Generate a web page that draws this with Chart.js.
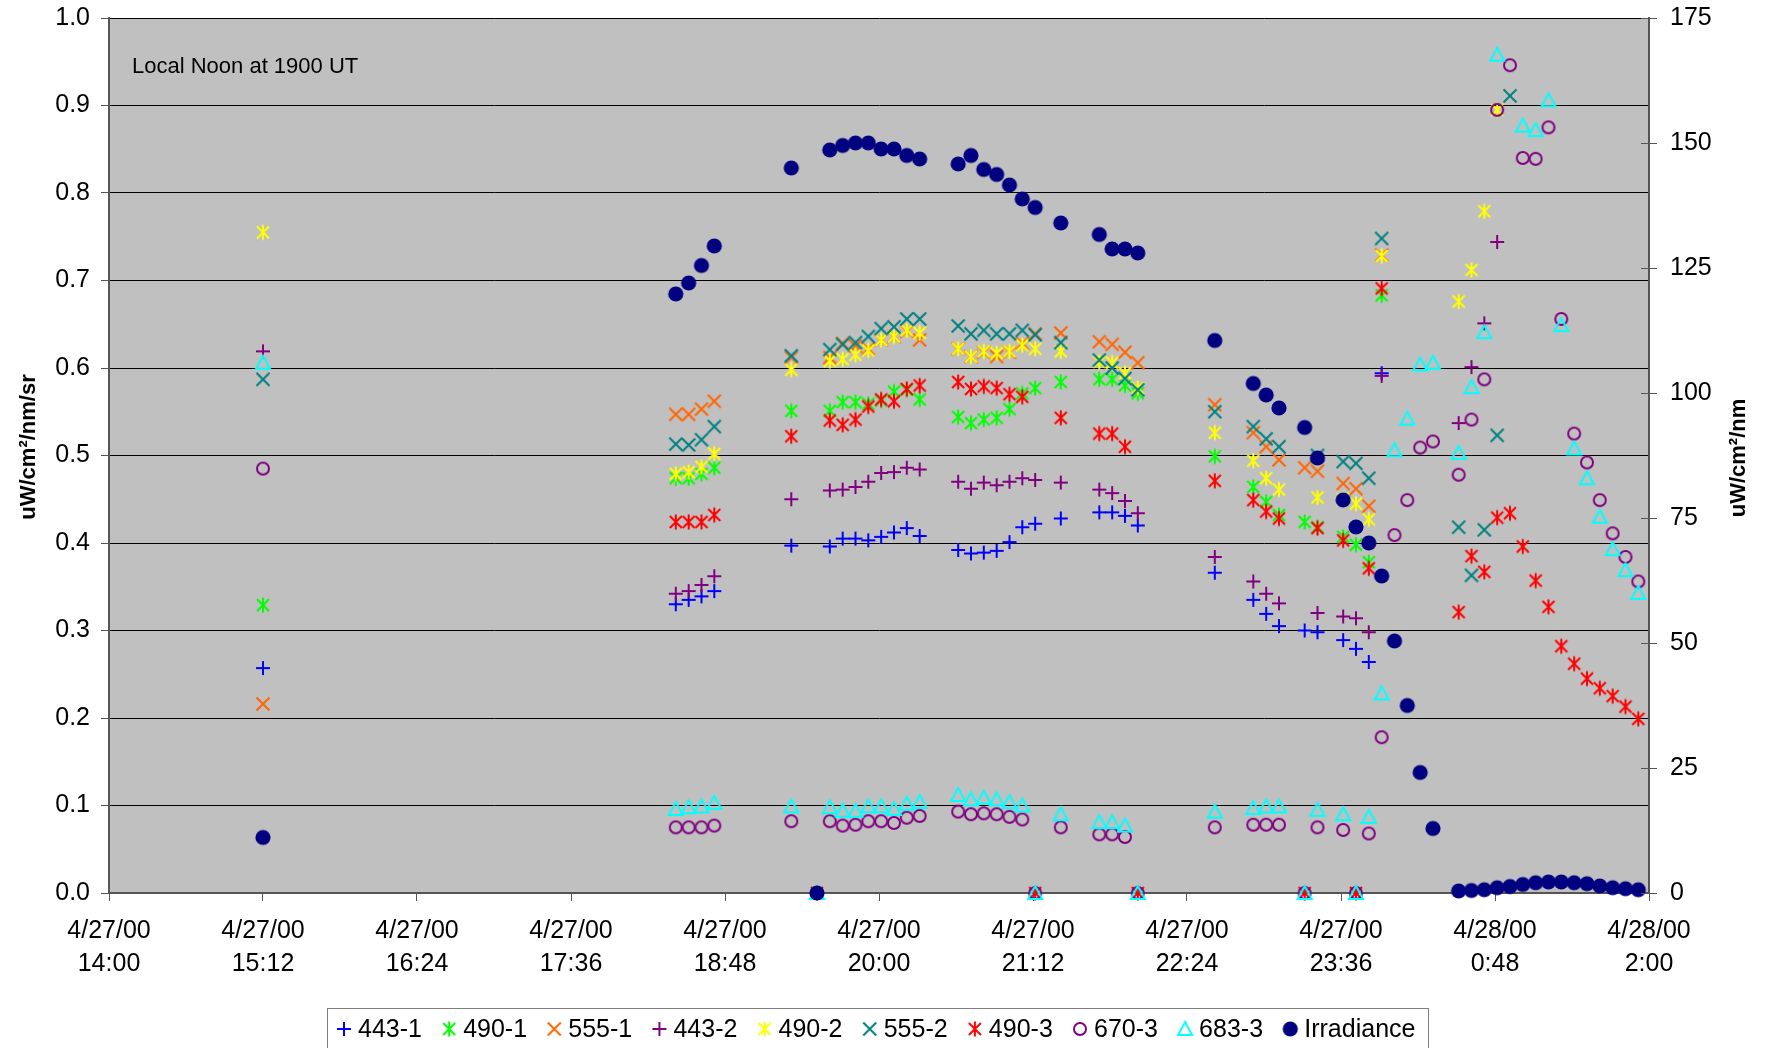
<!DOCTYPE html>
<html>
<head>
<meta charset="utf-8">
<title>Radiance and irradiance, 27-28 April 2000</title>
<script src="https://cdn.jsdelivr.net/npm/chart.js@4.4.0/dist/chart.umd.min.js"></script>
<style>
  html, body { margin: 0; padding: 0; background: #ffffff; }
  #wrap { width: 1767px; height: 1048px; position: relative; }
</style>
</head>
<body>
<div id="wrap"><canvas id="chart" width="1767" height="1048"></canvas></div>
<script>
// ---- data ---------------------------------------------------------------
const _ = null;

// sample times (UT); times before noon belong to 4/28
const sampleTimes = [
  "15:12",
  "18:25", "18:31", "18:37", "18:43",
  "19:19", "19:31",
  "19:37", "19:43", "19:49", "19:55", "20:01", "20:07", "20:13", "20:19",
  "20:37", "20:43", "20:49", "20:55", "21:01", "21:07", "21:13",
  "21:25",
  "21:43", "21:49", "21:55", "22:01",
  "22:37",
  "22:55", "23:01", "23:07",
  "23:19", "23:25",
  "23:37", "23:43", "23:49", "23:55",
  "0:01", "0:07", "0:13", "0:19",
  "0:31", "0:37", "0:43", "0:49", "0:55", "1:01", "1:07", "1:13",
  "1:19", "1:25", "1:31", "1:37", "1:43", "1:49", "1:55"
];

// radiance, uW/cm^2/nm/sr
const rad443_1 = [0.257, 0.330,0.335,0.339,0.345, 0.397,_, 0.396,0.405,0.405,0.403,0.407,0.412,0.417,0.408,
  0.392,0.388,0.389,0.391,0.401,0.418,0.422, 0.428, 0.435,0.435,0.431,0.420, 0.366, 0.335,0.319,0.305,
  0.300,0.298, 0.289,0.279,0.264,0.594, _,_,_,_, _,_,_,_,_,_,_,_,_,_,_,_,_,_,_];
const rad490_1 = [0.329, 0.474,0.474,0.479,0.486, 0.551,_, 0.551,0.561,0.561,0.559,0.563,0.573,0.575,0.564,
  0.544,0.537,0.541,0.543,0.553,0.571,0.577, 0.584, 0.587,0.587,0.580,0.571, 0.499, 0.464,0.447,0.432,
  0.424,0.418, 0.407,0.398,0.378,0.683, _,_,_,_, _,_,_,_,_,_,_,_,_,_,_,_,_,_,_];
const rad555_1 = [0.216, 0.547,0.547,0.553,0.562, 0.612,_, 0.612,0.628,0.625,0.622,0.632,0.636,0.642,0.632,
  0.622,0.613,0.618,0.613,0.618,0.628,0.639, 0.640, 0.630,0.627,0.618,0.606, 0.558, 0.526,0.510,0.495,
  0.486,0.482, 0.468,0.462,0.442,0.729, _,_,_,_, _,_,_,_,_,_,_,_,_,_,_,_,_,_,_];
const rad443_2 = [0.619, 0.342,0.345,0.352,0.362, 0.450,_, 0.460,0.461,0.464,0.470,0.480,0.481,0.486,0.484,
  0.470,0.462,0.469,0.466,0.470,0.474,0.472, 0.469, 0.461,0.457,0.448,0.434, 0.384, 0.356,0.342,0.331,
  _,0.320, 0.316,0.314,0.298,0.591, _,_,_,_, 0.537,0.601,0.651,0.744,_,_,_,_,_,_,_,_,_,_,_];
const rad490_2 = [0.755, 0.479,0.481,0.487,0.502, 0.598,_, 0.608,0.610,0.615,0.620,0.632,0.636,0.643,0.640,
  0.622,0.613,0.619,0.617,0.619,0.626,0.622, 0.619, 0.607,0.606,0.594,0.577, 0.526, 0.494,0.474,0.461,
  _,0.452, 0.450,0.445,0.427,0.728, _,_,_,_, 0.676,0.712,0.779,0.895,_,_,_,_,_,_,_,_,_,_,_];
const rad555_2 = [0.587, 0.513,0.512,0.518,0.533, 0.614,_, 0.621,0.627,0.629,0.636,0.645,0.647,0.656,0.656,
  0.648,0.639,0.643,0.639,0.639,0.643,0.638, 0.629, 0.609,0.600,0.588,0.575, 0.550, 0.533,0.519,0.510,
  _,0.500, 0.493,0.491,0.474,0.748, _,_,_,_, 0.418,0.363,0.415,0.523,0.911,_,_,_,_,_,_,_,_,_,_];
const rad490_3 = [_, 0.424,0.424,0.424,0.432, 0.522,0, 0.540,0.535,0.541,0.556,0.564,0.562,0.576,0.580,
  0.584,0.576,0.579,0.577,0.570,0.567,0, 0.543, 0.525,0.525,0.510,0, 0.471, 0.449,0.436,0.428,
  0,0.417, 0.403,0,0.371,0.691, _,_,_,_, 0.321,0.385,0.367,0.429,0.434,0.396,0.357,0.327,
  0.282,0.262,0.245,0.234,0.225,0.213,0.199];
const rad670_3 = [0.485, 0.075,0.075,0.075,0.077, 0.082,0, 0.082,0.077,0.078,0.082,0.082,0.080,0.086,0.088,
  0.093,0.090,0.091,0.090,0.087,0.084,0, 0.075, 0.067,0.067,0.064,0, 0.075, 0.078,0.078,0.078,
  0,0.075, 0.072,0,0.068,0.178, 0.409,0.449,0.509,0.516, 0.478,0.541,0.587,0.895,0.946,0.840,0.839,0.875,
  0.656,0.525,0.492,0.449,0.411,0.384,0.356];
const rad683_3 = [0.606, 0.096,0.098,0.099,0.103, 0.099,0, 0.098,0.094,0.094,0.099,0.099,0.096,0.102,0.104,
  0.112,0.107,0.109,0.107,0.104,0.100,0, 0.090, 0.081,0.081,0.077,0, 0.093, 0.097,0.099,0.099,
  0,0.095, 0.090,0,0.087,0.228, 0.506,0.542,0.604,0.606, 0.503,0.578,0.641,0.958,_,0.877,0.872,0.906,
  0.649,0.508,0.474,0.430,0.393,0.369,0.343];

// downwelling irradiance, uW/cm^2/nm (right axis)
const irradiance = [11.1, 119.8,122.0,125.5,129.4, 145.0,0, 148.6,149.5,150.0,150.0,148.8,148.8,147.5,146.8,
  145.8,147.5,144.7,143.7,141.6,138.8,137.1, 134.0, 131.7,128.8,128.8,128.0, 110.5, 101.9,99.6,97.0,
  93.1,87.0, 78.6,73.2,70.0,63.4, 50.4,37.5,24.1,12.9, 0.4,0.5,0.65,1.05,1.3,1.7,2.05,2.2,
  2.2,2.05,1.85,1.4,1.05,0.85,0.65];

const seriesLabels = ["443-1", "490-1", "555-1", "443-2", "490-2", "555-2", "490-3", "670-3", "683-3", "Irradiance"];

// axis ticks
const timeTicks = ["4/27/00 14:00", "4/27/00 15:12", "4/27/00 16:24", "4/27/00 17:36", "4/27/00 18:48",
  "4/27/00 20:00", "4/27/00 21:12", "4/27/00 22:24", "4/27/00 23:36", "4/28/00 0:48", "4/28/00 2:00"];
const leftTicks = [0.0, 0.1, 0.2, 0.3, 0.4, 0.5, 0.6, 0.7, 0.8, 0.9, 1.0];
const rightTicks = [0, 25, 50, 75, 100, 125, 150, 175];

// ---- helpers ------------------------------------------------------------
const FONT = '"Liberation Sans", Arial, Helvetica, sans-serif';
Chart.defaults.font.family = FONT;

function sampleHours(t) {
  const [h, m] = t.split(":").map(Number);
  return (h < 12 ? 24 : 0) + h + m / 60;
}
function tickHours(s) {
  const [d, t] = s.split(" ");
  const [h, m] = t.split(":").map(Number);
  return (d.startsWith("4/28") ? 24 : 0) + h + m / 60;
}
function points(values) {
  const out = [];
  values.forEach((v, i) => { if (v !== null) out.push({ x: sampleHours(sampleTimes[i]), y: v }); });
  return out;
}
// fixed box sizes so the plot area sits where it should
function fixBox(size) {
  return s => {
    if (s.isHorizontal()) s.height = size; else s.width = size;
    s.paddingTop = 0; s.paddingBottom = 0; s.paddingLeft = 0; s.paddingRight = 0;
  };
}

// marker glyphs in the spreadsheet style
function marker(kind, color) {
  const s = 20;
  const c = document.createElement("canvas");
  c.width = s; c.height = s;
  const g = c.getContext("2d");
  g.translate(s / 2, s / 2);
  g.strokeStyle = color; g.fillStyle = color; g.lineWidth = 2;
  g.beginPath();
  if (kind === "plus") {
    g.moveTo(-7, 0); g.lineTo(7, 0); g.moveTo(0, -7); g.lineTo(0, 7); g.stroke();
  } else if (kind === "x") {
    g.moveTo(-6.5, -6.5); g.lineTo(6.5, 6.5); g.moveTo(-6.5, 6.5); g.lineTo(6.5, -6.5); g.stroke();
  } else if (kind === "star") {
    g.moveTo(-6, -6); g.lineTo(6, 6); g.moveTo(-6, 6); g.lineTo(6, -6);
    g.moveTo(0, -7.5); g.lineTo(0, 7.5); g.stroke();
  } else if (kind === "ring") {
    g.arc(0, 0, 6, 0, Math.PI * 2); g.stroke();
  } else if (kind === "tri") {
    g.moveTo(0, -7); g.lineTo(7, 6); g.lineTo(-7, 6); g.closePath(); g.stroke();
  } else if (kind === "dot") {
    g.arc(0, 0, 7.6, 0, Math.PI * 2); g.fill();
  }
  return c;
}

const seriesValues = [rad443_1, rad490_1, rad555_1, rad443_2, rad490_2, rad555_2, rad490_3, rad670_3, rad683_3, irradiance];
const seriesMarkers = [
  marker("plus", "#0000FF"), marker("star", "#00FF00"), marker("x", "#FF6600"),
  marker("plus", "#800080"), marker("star", "#FFFF00"), marker("x", "#008080"),
  marker("star", "#FF0000"), marker("ring", "#800080"), marker("tri", "#00FFFF"),
  marker("dot", "#000080")
];

const datasets = seriesLabels.map((label, i) => ({
  label,
  data: points(seriesValues[i]),
  yAxisID: i === 9 ? "y1" : "y",
  pointStyle: seriesMarkers[i],
  pointRadius: 7,
  pointHoverRadius: 7,
  showLine: false,
  clip: false,
  order: seriesLabels.length - i
}));

// ---- decorations ---------------------------------------------------------
const decorations = {
  id: "decorations",
  beforeDraw(chart) {
    const { ctx, chartArea: a } = chart;
    ctx.save();
    ctx.fillStyle = "#C0C0C0";
    ctx.fillRect(a.left, a.top, a.right - a.left, a.bottom - a.top);
    ctx.restore();
  },
  afterDraw(chart) {
    const { ctx, chartArea: a } = chart;
    ctx.save();

    // inner half of the right-axis tick marks
    const y1 = chart.scales.y1;
    ctx.strokeStyle = "#555555"; ctx.lineWidth = 1;
    rightTicks.forEach(v => {
      const py = Math.round(y1.getPixelForValue(v)) + 0.5;
      ctx.beginPath(); ctx.moveTo(a.right - 8, py); ctx.lineTo(a.right, py); ctx.stroke();
    });

    // note inside the plot
    ctx.fillStyle = "#000000";
    ctx.font = "22px " + FONT;
    ctx.textAlign = "left"; ctx.textBaseline = "alphabetic";
    ctx.fillText("Local Noon at 1900 UT", 132, 73);

    // axis titles
    ctx.font = "bold 22px " + FONT;
    ctx.textAlign = "center"; ctx.textBaseline = "middle";
    ctx.save(); ctx.translate(29, 447); ctx.rotate(-Math.PI / 2);
    ctx.fillText("uW/cm\u00B2/nm/sr", 0, 0); ctx.restore();
    ctx.save(); ctx.translate(1739, 458); ctx.rotate(-Math.PI / 2);
    ctx.fillText("uW/cm\u00B2/nm", 0, 0); ctx.restore();

    // legend
    ctx.strokeStyle = "#808080"; ctx.lineWidth = 1;
    ctx.fillStyle = "#ffffff";
    ctx.fillRect(328, 1009, 1101, 50);
    ctx.strokeRect(327.5, 1008.5, 1101, 60);
    ctx.font = "25px " + FONT;
    ctx.textAlign = "left"; ctx.textBaseline = "middle";
    ctx.fillStyle = "#000000";
    let x = 336;
    const yMid = 1029;
    seriesLabels.forEach((label, i) => {
      const img = seriesMarkers[i];
      ctx.drawImage(img, x + 8 - img.width / 2, yMid - img.height / 2);
      ctx.fillText(label, x + 22, yMid + 1);
      x += 22 + ctx.measureText(label).width + 19.2;
    });
    ctx.restore();
  }
};

// ---- chart ----------------------------------------------------------------
const tickFont = { size: 25, family: FONT, lineHeight: 1.3 };

new Chart(document.getElementById("chart"), {
  type: "scatter",
  data: { datasets },
  options: {
    responsive: false,
    animation: false,
    devicePixelRatio: 1,
    layout: { padding: { top: 18, left: 0, right: 0, bottom: 0 } },
    plugins: { legend: { display: false }, tooltip: { enabled: false } },
    scales: {
      x: {
        type: "linear",
        min: tickHours(timeTicks[0]),
        max: tickHours(timeTicks[timeTicks.length - 1]),
        afterBuildTicks: s => { s.ticks = timeTicks.map(t => ({ value: tickHours(t) })); },
        afterFit: fixBox(155),
        grid: { drawOnChartArea: false, drawTicks: true, tickLength: 8, color: "#555555", tickColor: "#555555" },
        border: { display: true, color: "#555555", width: 2 },
        ticks: {
          font: tickFont, color: "#000000", padding: 14, maxRotation: 0, autoSkip: false,
          callback: (v, i) => timeTicks[i].split(" ")
        }
      },
      y: {
        position: "left",
        min: leftTicks[0],
        max: leftTicks[leftTicks.length - 1],
        afterBuildTicks: s => { s.ticks = leftTicks.map(v => ({ value: v })); },
        afterFit: fixBox(109),
        grid: { color: "#000000", lineWidth: 1, drawTicks: true, tickLength: 8, tickColor: "#555555" },
        border: { display: true, color: "#555555", width: 2 },
        ticks: { font: tickFont, color: "#000000", padding: 11, callback: v => v.toFixed(1) }
      },
      y1: {
        position: "right",
        min: rightTicks[0],
        max: rightTicks[rightTicks.length - 1],
        afterBuildTicks: s => { s.ticks = rightTicks.map(v => ({ value: v })); },
        afterFit: fixBox(118),
        grid: { drawOnChartArea: false, drawTicks: true, tickLength: 8, color: "#555555", tickColor: "#555555" },
        border: { display: true, color: "#555555", width: 2 },
        ticks: { font: tickFont, color: "#000000", padding: 13, callback: v => String(v) }
      }
    }
  },
  plugins: [decorations]
});
</script>
</body>
</html>
